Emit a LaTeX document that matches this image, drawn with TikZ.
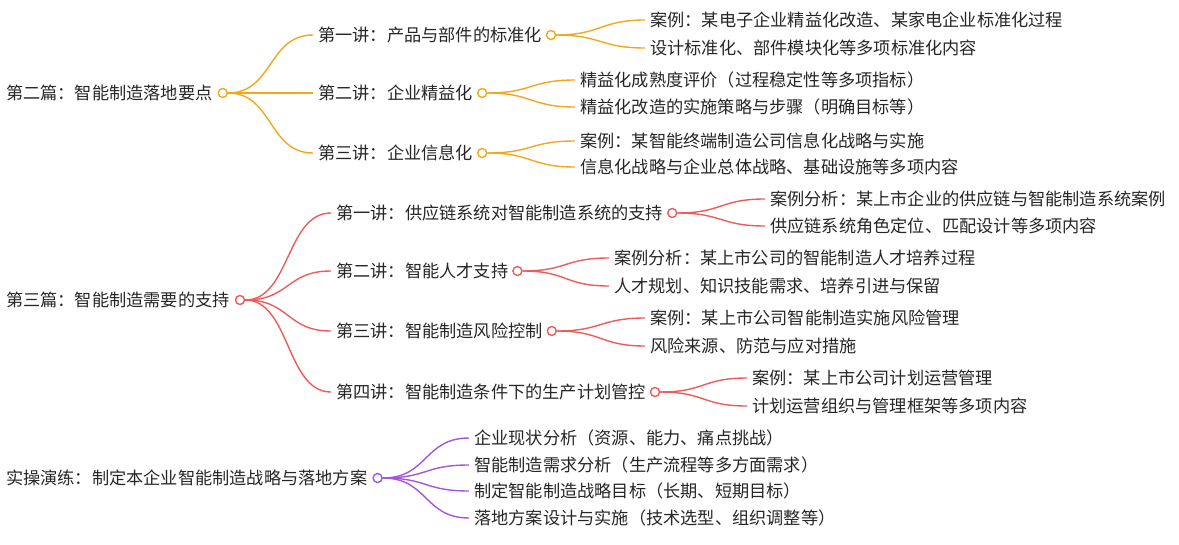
\documentclass[tikz,border=0pt]{standalone}
\usepackage{fontspec}
\setmainfont{Noto Sans CJK SC}
\begin{document}
\begin{tikzpicture}[x=1pt,y=-1pt,
  txt/.style={anchor=west,inner sep=0pt,font=\fontsize{17.2}{19}\selectfont,text=black!85},
  dot/.style={circle,draw=#1,line width=1.4pt,fill=white,minimum size=9pt,inner sep=0pt},
  lk/.style={draw=#1,line width=1.4pt}]
\definecolor{cO}{HTML}{F2A81D}
\definecolor{cR}{HTML}{EE5B5B}
\definecolor{cP}{HTML}{A356DC}
\useasboundingbox (0,0) rectangle (1179,544);
\newcommand{\lnk}[3]{\draw[lk=#1] (#2.east) .. controls +(45,0) and +(-45,0) .. ([xshift=-5pt]#3.west);}
% branch 1
\node[txt] (r1) at (6,93) {第二篇：智能制造落地要点};
\node[dot=cO] (r1d) at ([xshift=10pt]r1.east) {};
\node[txt] (a1) at (318,35) {第一讲：产品与部件的标准化};
\node[dot=cO] (a1d) at ([xshift=9pt]a1.east) {};
\node[txt] (a11) at (650,20) {案例：某电子企业精益化改造、某家电企业标准化过程};
\node[txt] (a12) at (650,48) {设计标准化、部件模块化等多项标准化内容};
\node[txt] (a2) at (318,93) {第二讲：企业精益化};
\node[dot=cO] (a2d) at ([xshift=9pt]a2.east) {};
\node[txt] (a21) at (580,80) {精益化成熟度评价（过程稳定性等多项指标）};
\node[txt] (a22) at (580,107) {精益化改造的实施策略与步骤（明确目标等）};
\node[txt] (a3) at (318,153) {第三讲：企业信息化};
\node[dot=cO] (a3d) at ([xshift=9pt]a3.east) {};
\node[txt] (a31) at (580,141) {案例：某智能终端制造公司信息化战略与实施};
\node[txt] (a32) at (580,167) {信息化战略与企业总体战略、基础设施等多项内容};
\lnk{cO}{r1d}{a1}\lnk{cO}{r1d}{a2}\lnk{cO}{r1d}{a3}
\lnk{cO}{a1d}{a11}\lnk{cO}{a1d}{a12}
\lnk{cO}{a2d}{a21}\lnk{cO}{a2d}{a22}
\lnk{cO}{a3d}{a31}\lnk{cO}{a3d}{a32}
% branch 2
\node[txt] (r2) at (6,300) {第三篇：智能制造需要的支持};
\node[dot=cR] (r2d) at ([xshift=10pt]r2.east) {};
\node[txt] (b1) at (336,213) {第一讲：供应链系统对智能制造系统的支持};
\node[dot=cR] (b1d) at ([xshift=9pt]b1.east) {};
\node[txt] (b11) at (770,199) {案例分析：某上市企业的供应链与智能制造系统案例};
\node[txt] (b12) at (770,226) {供应链系统角色定位、匹配设计等多项内容};
\node[txt] (b2) at (336,271) {第二讲：智能人才支持};
\node[dot=cR] (b2d) at ([xshift=9pt]b2.east) {};
\node[txt] (b21) at (614,258) {案例分析：某上市公司的智能制造人才培养过程};
\node[txt] (b22) at (614,286) {人才规划、知识技能需求、培养引进与保留};
\node[txt] (b3) at (336,331) {第三讲：智能制造风险控制};
\node[dot=cR] (b3d) at ([xshift=9pt]b3.east) {};
\node[txt] (b31) at (650,318) {案例：某上市公司智能制造实施风险管理};
\node[txt] (b32) at (650,346) {风险来源、防范与应对措施};
\node[txt] (b4) at (336,392) {第四讲：智能制造条件下的生产计划管控};
\node[dot=cR] (b4d) at ([xshift=9pt]b4.east) {};
\node[txt] (b41) at (752,378) {案例：某上市公司计划运营管理};
\node[txt] (b42) at (752,406) {计划运营组织与管理框架等多项内容};
\lnk{cR}{r2d}{b1}\lnk{cR}{r2d}{b2}\lnk{cR}{r2d}{b3}\lnk{cR}{r2d}{b4}
\lnk{cR}{b1d}{b11}\lnk{cR}{b1d}{b12}
\lnk{cR}{b2d}{b21}\lnk{cR}{b2d}{b22}
\lnk{cR}{b3d}{b31}\lnk{cR}{b3d}{b32}
\lnk{cR}{b4d}{b41}\lnk{cR}{b4d}{b42}
% branch 3
\node[txt] (r3) at (6,478) {实操演练：制定本企业智能制造战略与落地方案};
\node[dot=cP] (r3d) at ([xshift=10pt]r3.east) {};
\node[txt] (c1) at (474,438) {企业现状分析（资源、能力、痛点挑战）};
\node[txt] (c2) at (474,465) {智能制造需求分析（生产流程等多方面需求）};
\node[txt] (c3) at (474,491) {制定智能制造战略目标（长期、短期目标）};
\node[txt] (c4) at (474,518) {落地方案设计与实施（技术选型、组织调整等）};
\lnk{cP}{r3d}{c1}\lnk{cP}{r3d}{c2}\lnk{cP}{r3d}{c3}\lnk{cP}{r3d}{c4}
\end{tikzpicture}
\end{document}
